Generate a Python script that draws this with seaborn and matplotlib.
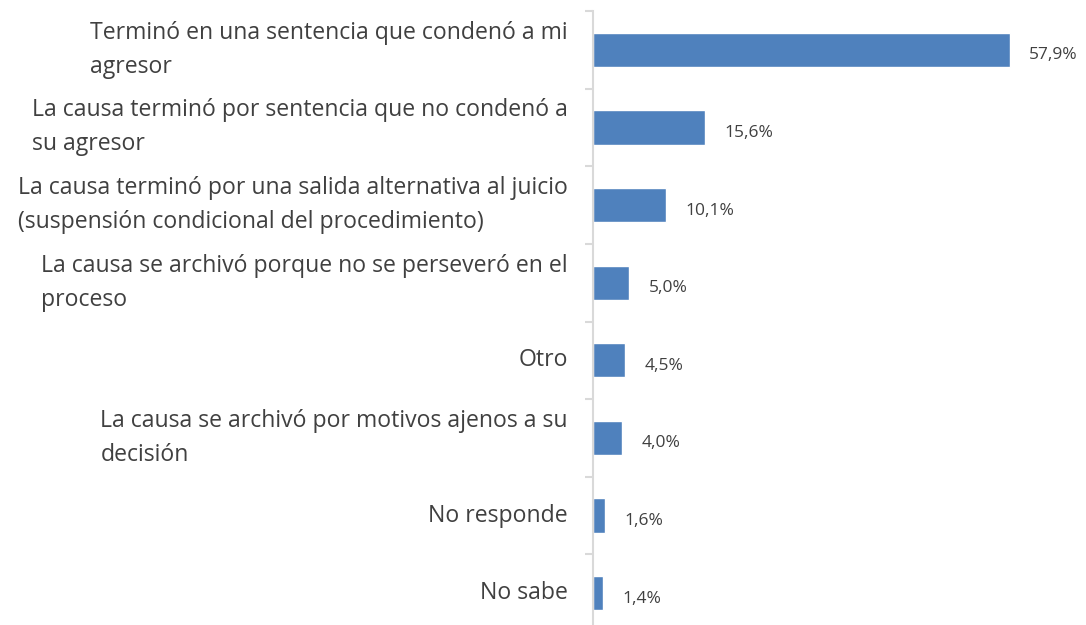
import matplotlib
matplotlib.use("Agg")
import matplotlib.pyplot as plt
import seaborn as sns
import pandas as pd
import numpy as np

categorias = [
    "Terminó en una sentencia que condenó a mi\nagresor",
    "La causa terminó por sentencia que no condenó a\nsu agresor",
    "La causa terminó por una salida alternativa al juicio\n(suspensión condicional del procedimiento)",
    "La causa se archivó porque no se perseveró en el\nproceso",
    "Otro",
    "La causa se archivó por motivos ajenos a su\ndecisión",
    "No responde",
    "No sabe",
]
porcentajes = [57.9, 15.6, 10.1, 5.0, 4.5, 4.0, 1.6, 1.4]

sns.set_theme(style="white")
plt.rcParams["font.family"] = ["Open Sans", "DejaVu Sans"]

df = pd.DataFrame({"categoria": categorias, "porcentaje": porcentajes})

W, H = 1086, 625
fig = plt.figure(figsize=(W / 100, H / 100), dpi=100)
ax_left, ax_top, ax_bottom = 593, 11, 632
ax = fig.add_axes([ax_left / W, 1 - ax_bottom / H, (W - ax_left) / W, (ax_bottom - ax_top) / H])

bar_color = "#4F81BD"
sns.barplot(data=df, y="categoria", x="porcentaje", orient="h", color=bar_color,
            width=0.44, saturation=1, ax=ax)

ax.set_xlim(0, (W - ax_left) / 7.2)
ax.set_ylim(len(categorias) - 0.5, -0.5)
ax.set_xlabel("")
ax.set_ylabel("")
ax.set_xticks([])

text_color = "#404040"
for sp in ["top", "right", "bottom"]:
    ax.spines[sp].set_visible(False)
ax.spines["left"].set_color("#D9D9D9")
ax.spines["left"].set_linewidth(1.5)

ax.set_yticks(np.arange(len(categorias)))
ax.set_yticklabels(categorias, fontsize=16.6, color=text_color)
ax.set_yticks(np.arange(len(categorias) + 1) - 0.5, minor=True)
ax.tick_params(axis="y", which="major", length=0, pad=18)
ax.tick_params(axis="y", which="minor", length=6, width=1.5, color="#D9D9D9", left=True)
for lbl in ax.get_yticklabels():
    lbl.set_multialignment("left")
    lbl.set_linespacing(1.55)
    lbl.set_verticalalignment("center")

for i, v in enumerate(porcentajes):
    ax.annotate(f"{v:.1f}%".replace(".", ","), xy=(v, i), xytext=(14, -4),
                textcoords="offset points", ha="left", va="center",
                fontsize=12.5, color=text_color)

fig.savefig("out.png", dpi=100)
